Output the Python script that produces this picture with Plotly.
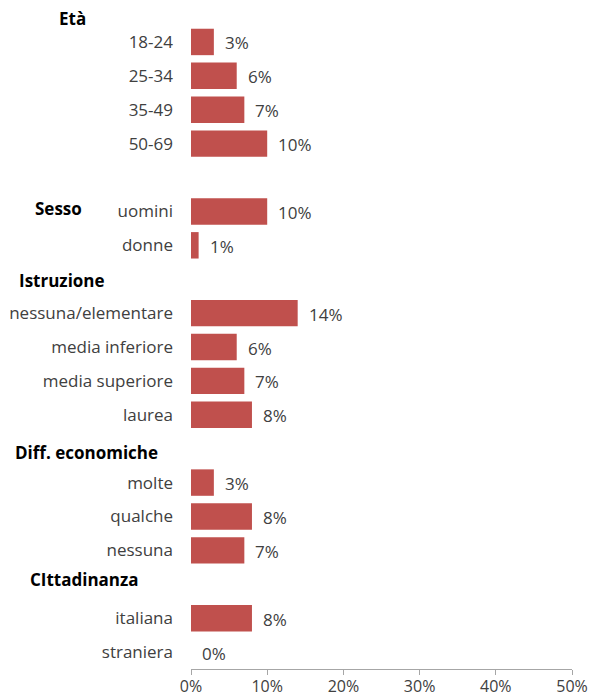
import plotly.graph_objects as go

# Row labels (blank strings are spacer rows between groups)
categories = ["18-24", "25-34", "35-49", "50-69", "",
              "uomini", "donne", "",
              "nessuna/elementare", "media inferiore", "media superiore", "laurea", "",
              "molte", "qualche", "nessuna", "",
              "italiana", "straniera"]
# Percent values per row (None for spacer rows)
values = [3, 6, 7, 10, None,
          10, 1, None,
          14, 6, 7, 8, None,
          3, 8, 7, None,
          8, 0]
# Group headings and the row position they sit at
group_titles = ["Età", "Sesso", "Istruzione", "Diff. economiche", "CIttadinanza"]
group_rows = [-0.68, 4.9, 7.05, 12.12, 15.85]
group_left_px = [57, 33, 17, 13, 28]

x_ticks = [0, 10, 20, 30, 40, 50]
x_tick_labels = ["0%", "10%", "20%", "30%", "40%", "50%"]

FONT = "Open Sans"
BAR = "#C0504D"
TEXT = "#404040"
FS = 17

rows = list(range(len(categories)))
bar_rows = [r for r, v in zip(rows, values) if v is not None]
bar_vals = [v for v in values if v is not None]

fig = go.Figure()
fig.add_trace(go.Bar(
    x=bar_vals, y=bar_rows, orientation="h",
    marker=dict(color=BAR, line=dict(width=0)),
    width=0.78, hoverinfo="skip",
))

# value labels to the right of each bar
for r, v in zip(bar_rows, bar_vals):
    fig.add_annotation(x=v, y=r, text=f"{v}%", showarrow=False,
                       xanchor="left", yanchor="middle", xshift=9, yshift=-1,
                       font=dict(family=FONT, size=FS, color=TEXT))

L, R, T, B = 191, 21, 25, 28
plot_w = 593 - L - R
n = len(categories)
for title, yr, px in zip(group_titles, group_rows, group_left_px):
    # convert row position to paper fraction (rows run top to bottom)
    yp = 1 - (yr + 0.5) / n
    fig.add_annotation(x=(px - L) / plot_w, xref="paper", y=yp, yref="paper",
                       text=f"<b>{title}</b>", showarrow=False,
                       xanchor="left", yanchor="middle",
                       font=dict(family=FONT, size=FS, color="#000000"))

fig.update_layout(
    width=593, height=697,
    margin=dict(l=L, r=R, t=T, b=B),
    paper_bgcolor="white", plot_bgcolor="white",
    showlegend=False,
    font=dict(family=FONT, size=FS, color=TEXT),
    xaxis=dict(range=[0, 50], tickvals=x_ticks, ticktext=x_tick_labels,
               showgrid=False, zeroline=False, automargin=False,
               showline=True, linecolor="#A6A6A6", linewidth=1,
               ticks="outside", ticklen=5, tickcolor="#A6A6A6",
               ticklabelstandoff=-2,
               tickfont=dict(family=FONT, size=16, color=TEXT)),
    yaxis=dict(range=[n - 0.5, -0.5],
               tickvals=rows, ticktext=categories, automargin=False,
               showgrid=False, zeroline=False, showline=False,
               ticks="", ticklabelstandoff=17,
               tickfont=dict(family=FONT, size=FS, color=TEXT)),
)

fig.write_html("out.html")
